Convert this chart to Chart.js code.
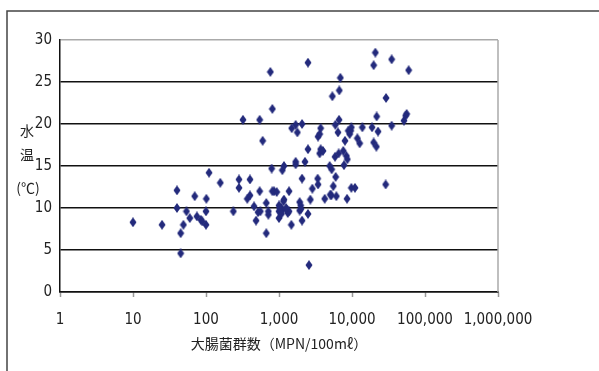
<!DOCTYPE html>
<html>
<head>
<meta charset="utf-8">
<script src="https://cdn.jsdelivr.net/npm/chart.js@4/dist/chart.umd.min.js"></script>
<style>
  html, body { margin: 0; padding: 0; background: #fff; }
  #wrap { width: 599px; height: 371px; }
</style>
</head>
<body>
<div id="wrap"><canvas id="myChart" width="599" height="371"></canvas></div>
<script>
// coliform count (MPN/100ml) and water temperature (C) per sample
var coliform = [
  10, 25, 40, 40, 45, 45, 49, 54, 60, 70,
  75, 85, 89, 101, 100, 100, 110, 157, 237, 283,
  283, 321, 400, 368, 400, 455, 485, 516, 543, 543,
  555, 597, 670, 670, 714, 714, 761, 811, 794, 811,
  855, 1000, 1000, 1000, 1077, 1111, 1170, 1170, 1111, 1077,
  1288, 1318, 1372, 1372, 1476, 1493, 1692, 1692, 1692, 1782,
  1919, 1919, 1982, 2066, 2066, 2066, 2270, 2495, 2495, 2495,
  2576, 2686, 2862, 3388, 3422, 3422, 3606, 3606, 3724, 3724,
  4227, 5050, 4944, 5263, 5377, 5546, 5850, 5911, 5970, 6100,
  6430, 6560, 6640, 6700, 6918, 7600, 7762, 8015, 8360, 8550,
  8630, 8900, 9290, 9590, 9790, 9790, 10990, 11830, 12740, 13860,
  18800, 19810, 19810, 20890, 21550, 21780, 22710, 28910, 29230, 34940,
  34940, 51550, 54330, 56080, 59700,
  // dense middle cluster
  1020, 1150, 1250, 930, 2000, 4000, 5200
];
var waterTemp = [
  8.3, 8.0, 12.1, 10.0, 7.0, 4.6, 8.0, 9.6, 8.8, 11.4,
  9.0, 8.6, 8.4, 11.1, 9.6, 8.0, 14.2, 13.0, 9.6, 13.4,
  12.4, 20.5, 13.4, 11.1, 11.5, 10.2, 8.5, 9.5, 20.5, 12.0,
  9.6, 18.0, 10.6, 7.0, 9.6, 9.2, 26.2, 21.8, 14.7, 12.0,
  12.0, 10.3, 9.6, 8.8, 10.0, 14.5, 15.0, 11.0, 9.7, 9.3,
  9.8, 9.4, 12.0, 9.6, 8.0, 19.5, 19.9, 15.5, 15.2, 19.0,
  10.7, 9.7, 10.3, 20.0, 13.5, 8.5, 15.5, 27.3, 17.0, 9.3,
  3.2, 11.0, 12.3, 13.5, 12.8, 18.5, 18.8, 16.5, 17.0, 19.5,
  11.1, 11.6, 15.0, 14.6, 23.3, 12.6, 16.1, 19.9, 13.7, 11.4,
  19.0, 16.5, 20.5, 24.0, 25.5, 16.8, 15.1, 18.0, 16.2, 11.1,
  15.8, 19.2, 18.8, 19.2, 19.6, 12.4, 12.4, 18.3, 17.7, 19.6,
  19.6, 27.0, 17.8, 28.5, 17.3, 20.9, 19.1, 12.8, 23.1, 27.7,
  19.8, 20.4, 21.0, 21.2, 26.4,
  10.0, 10.8, 10.0, 11.9, 9.9, 16.8, 11.5
];
var xTickValues = [1, 10, 100, 1000, 10000, 100000, 1000000];
var yTickValues = [0, 5, 10, 15, 20, 25, 30];
var yTitleLines = ['水', '温', '(℃)'];
var xTitle = '大腸菌群数（MPN/100mℓ）';

var points = coliform.map(function (c, i) {
  return { x: c, y: waterTemp[i] };
});

// tall diamond marker
var marker = document.createElement('canvas');
marker.width = 8;
marker.height = 10;
var mctx = marker.getContext('2d');
mctx.fillStyle = '#232a7c';
mctx.beginPath();
mctx.moveTo(4, 0);
mctx.lineTo(7.5, 5);
mctx.lineTo(4, 10);
mctx.lineTo(0.5, 5);
mctx.closePath();
mctx.fill();

var tickFont = { family: "'Liberation Sans Narrow', 'DejaVu Sans Condensed', sans-serif", size: 15 };

var framePlugin = {
  id: 'frame',
  beforeDraw: function (chart) {
    var c = chart.ctx;
    c.save();
    c.fillStyle = '#fff';
    c.fillRect(0, 0, chart.width, chart.height);
    c.strokeStyle = '#444';
    c.lineWidth = 1.5;
    c.beginPath();
    c.moveTo(7, chart.height + 2);
    c.lineTo(7, 11);
    c.lineTo(chart.width + 2, 11);
    c.stroke();
    c.restore();
  },
  afterDraw: function (chart) {
    var c = chart.ctx;
    var a = chart.chartArea;
    c.save();
    // right border of plot area
    c.strokeStyle = '#aaa';
    c.lineWidth = 1.5;
    c.beginPath();
    c.moveTo(a.right, a.top);
    c.lineTo(a.right, a.bottom);
    c.stroke();
    // stacked vertical axis title
    c.fillStyle = '#222';
    c.textAlign = 'center';
    c.textBaseline = 'middle';
    c.font = "14px 'Noto Sans CJK JP', sans-serif";
    c.fillText(yTitleLines[0], 27, 131);
    c.fillText(yTitleLines[1], 27, 155);
    c.font = "14px 'Liberation Sans Narrow', 'Noto Sans CJK JP', sans-serif";
    c.fillText(yTitleLines[2], 28, 188);
    c.restore();
  }
};

var ctx = document.getElementById('myChart').getContext('2d');
var myChart = new Chart(ctx, {
  type: 'scatter',
  data: {
    datasets: [{
      label: '水温',
      data: points,
      pointStyle: marker,
      pointRadius: 4,
      pointHoverRadius: 4,
      backgroundColor: '#232a7c',
      borderColor: '#232a7c'
    }]
  },
  options: {
    responsive: false,
    animation: false,
    layout: { padding: { left: 0, top: 40, right: 101, bottom: 0 } },
    plugins: {
      legend: { display: false },
      tooltip: { enabled: false }
    },
    scales: {
      x: {
        type: 'logarithmic',
        min: 1,
        max: 1000000,
        afterFit: function (scale) { scale.height = 79; },
        afterBuildTicks: function (scale) {
          scale.ticks = xTickValues.map(function (v) { return { value: v }; });
        },
        grid: {
          drawOnChartArea: false,
          drawTicks: true,
          tickLength: 5,
          tickColor: '#999',
          tickWidth: 1.5
        },
        border: { color: '#111', width: 1.5 },
        ticks: {
          color: '#222',
          font: tickFont,
          padding: 14,
          maxRotation: 0,
          autoSkip: false,
          callback: function (v) { return Number(v).toLocaleString('en-US'); }
        },
        title: {
          display: true,
          text: xTitle,
          color: '#222',
          font: { family: "'Liberation Sans Narrow', 'Noto Sans CJK JP', sans-serif", size: 14 },
          padding: { top: 0, bottom: 19 }
        }
      },
      y: {
        min: 0,
        max: 30,
        afterFit: function (scale) { scale.width = 60; },
        afterBuildTicks: function (scale) {
          scale.ticks = yTickValues.map(function (v) { return { value: v }; });
        },
        grid: {
          drawTicks: false,
          color: function (c) { return c.tick && c.tick.value === 30 ? '#aaa' : '#111'; },
          lineWidth: 1.5
        },
        border: { color: '#111', width: 1.5 },
        ticks: {
          color: '#222',
          font: tickFont,
          padding: 8
        }
      }
    }
  },
  plugins: [framePlugin]
});
</script>
</body>
</html>
